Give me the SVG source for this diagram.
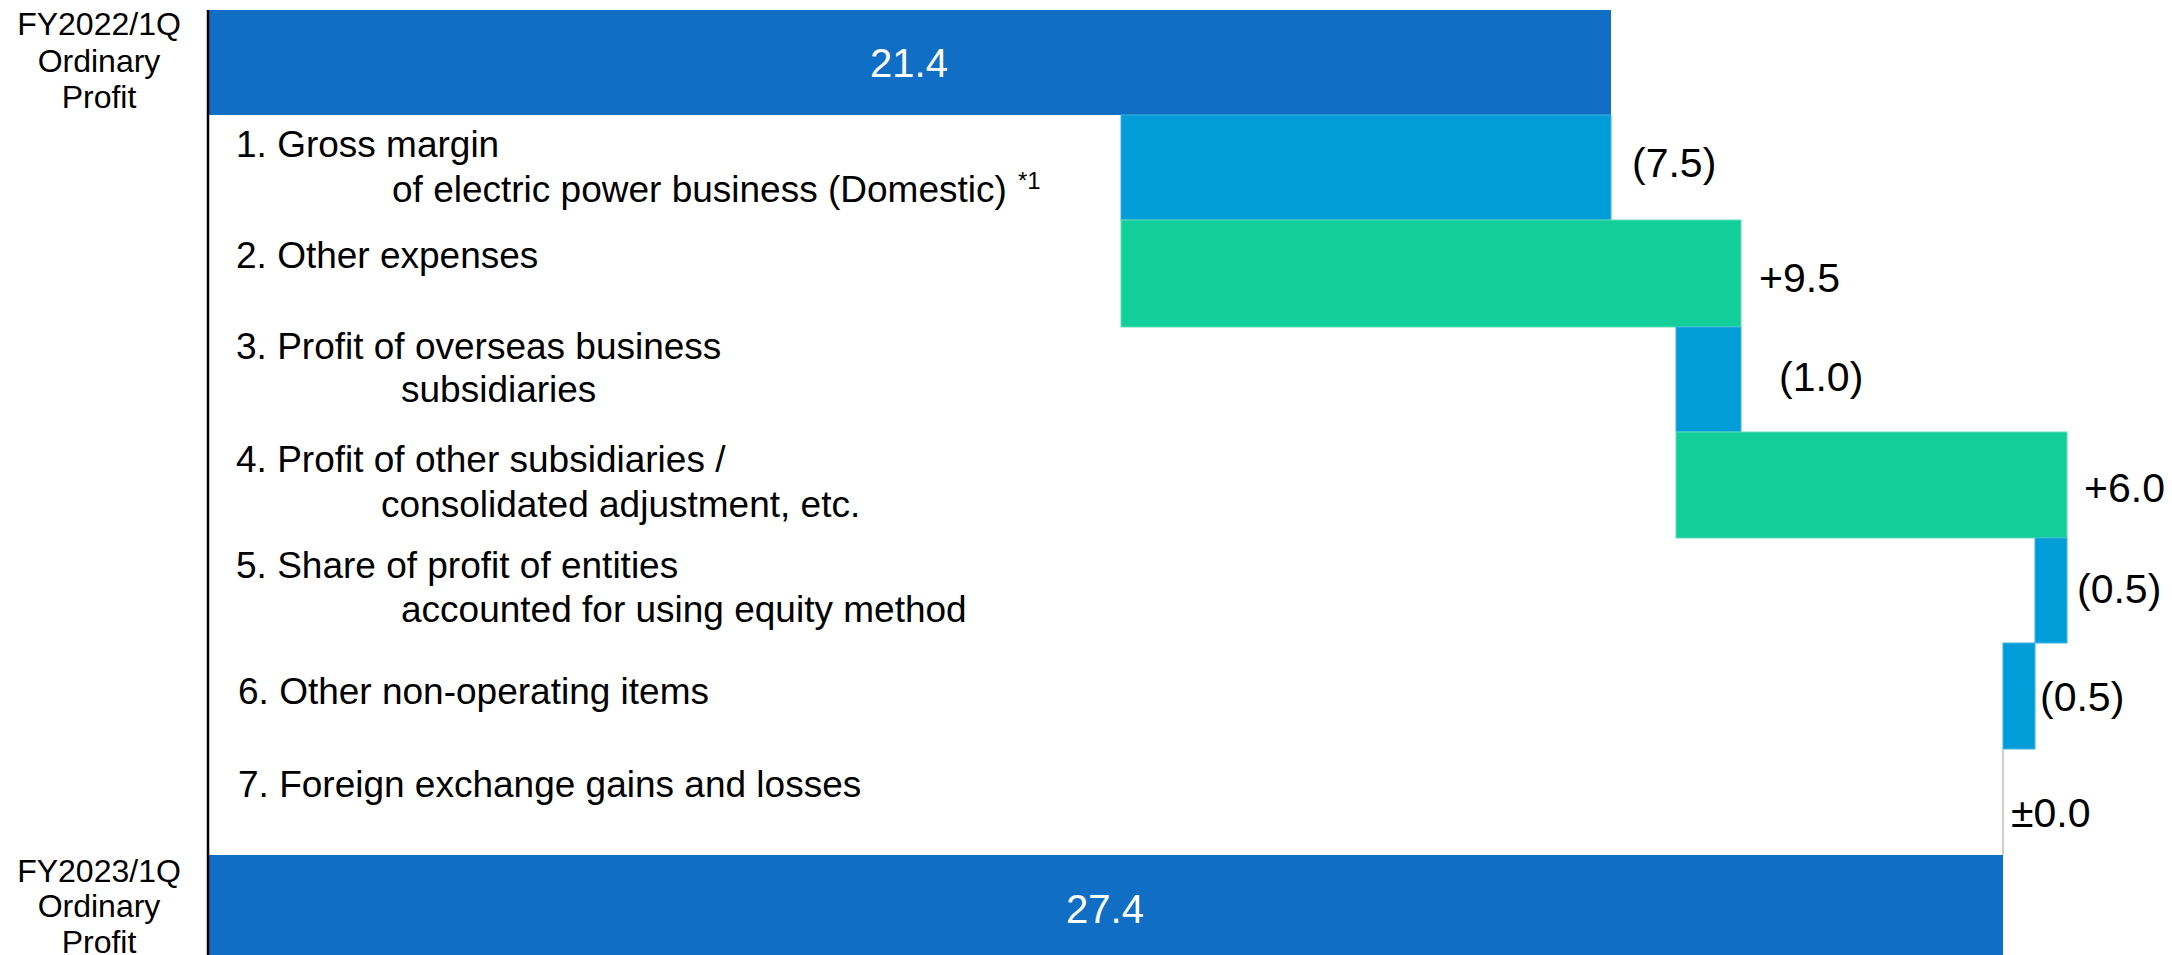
<svg xmlns="http://www.w3.org/2000/svg" width="2172" height="955" viewBox="0 0 2172 955">
<style>
text{font-family:"Liberation Sans",Arial,sans-serif;fill:#000}
.side{font-size:32px;text-anchor:middle}
.item{font-size:37px}
.val{font-size:41px}
.tot{font-size:40px;fill:#fff;text-anchor:middle}
.total{fill:#106FC5}
.neg{fill:#019DD8;stroke:#3FB4E0;stroke-width:1}
.pos{fill:#12CF9A;stroke:#5EDDB9;stroke-width:1}
</style>
<rect width="2172" height="955" fill="#fff"/>
<g id="start">
<rect class="total" x="208" y="10" width="1403" height="105"/>
<text class="tot" x="909" y="77">21.4</text>
<text class="side" x="99" y="35">FY2022/1Q</text>
<text class="side" x="99" y="72">Ordinary</text>
<text class="side" x="99" y="108">Profit</text>
</g>
<g id="item1">
<rect class="neg" x="1121" y="115" width="490" height="105"/>
<text class="item" x="236" y="157">1. Gross margin</text>
<text class="item" x="392" y="202">of electric power business (Domestic)</text>
<text x="1018" y="189" font-size="24">*1</text>
<text class="val" x="1632" y="177">(7.5)</text>
</g>
<g id="item2">
<rect class="pos" x="1121" y="220" width="620" height="107"/>
<text class="item" x="236" y="268">2. Other expenses</text>
<text class="val" x="1759" y="292">+9.5</text>
</g>
<g id="item3">
<rect class="neg" x="1676" y="327" width="65" height="105"/>
<text class="item" x="236" y="359">3. Profit of overseas business</text>
<text class="item" x="401" y="402">subsidiaries</text>
<text class="val" x="1779" y="391">(1.0)</text>
</g>
<g id="item4">
<rect class="pos" x="1676" y="432" width="391" height="106"/>
<text class="item" x="236" y="472">4. Profit of other subsidiaries /</text>
<text class="item" x="381" y="517">consolidated adjustment, etc.</text>
<text class="val" x="2084" y="502">+6.0</text>
</g>
<g id="item5">
<rect class="neg" x="2035" y="538" width="32" height="105"/>
<text class="item" x="236" y="578">5. Share of profit of entities</text>
<text class="item" x="401" y="622">accounted for using equity method</text>
<text class="val" x="2077" y="603">(0.5)</text>
</g>
<g id="item6">
<rect class="neg" x="2003" y="643" width="32" height="106"/>
<text class="item" x="238" y="704">6. Other non-operating items</text>
<text class="val" x="2040" y="711">(0.5)</text>
</g>
<g id="item7">
<line x1="2003" y1="749" x2="2003" y2="855" stroke="#BFBFBF" stroke-width="1.5"/>
<text class="item" x="238" y="797">7. Foreign exchange gains and losses</text>
<text class="val" x="2011" y="827">±0.0</text>
</g>
<g id="end">
<rect class="total" x="208" y="855" width="1795" height="100"/>
<text class="tot" x="1105" y="923">27.4</text>
<text class="side" x="99" y="882">FY2023/1Q</text>
<text class="side" x="99" y="917">Ordinary</text>
<text class="side" x="99" y="953">Profit</text>
</g>
<g id="connectors">
<line x1="208" y1="10" x2="208" y2="955" stroke="#000" stroke-width="2.5"/>
</g>
</svg>
